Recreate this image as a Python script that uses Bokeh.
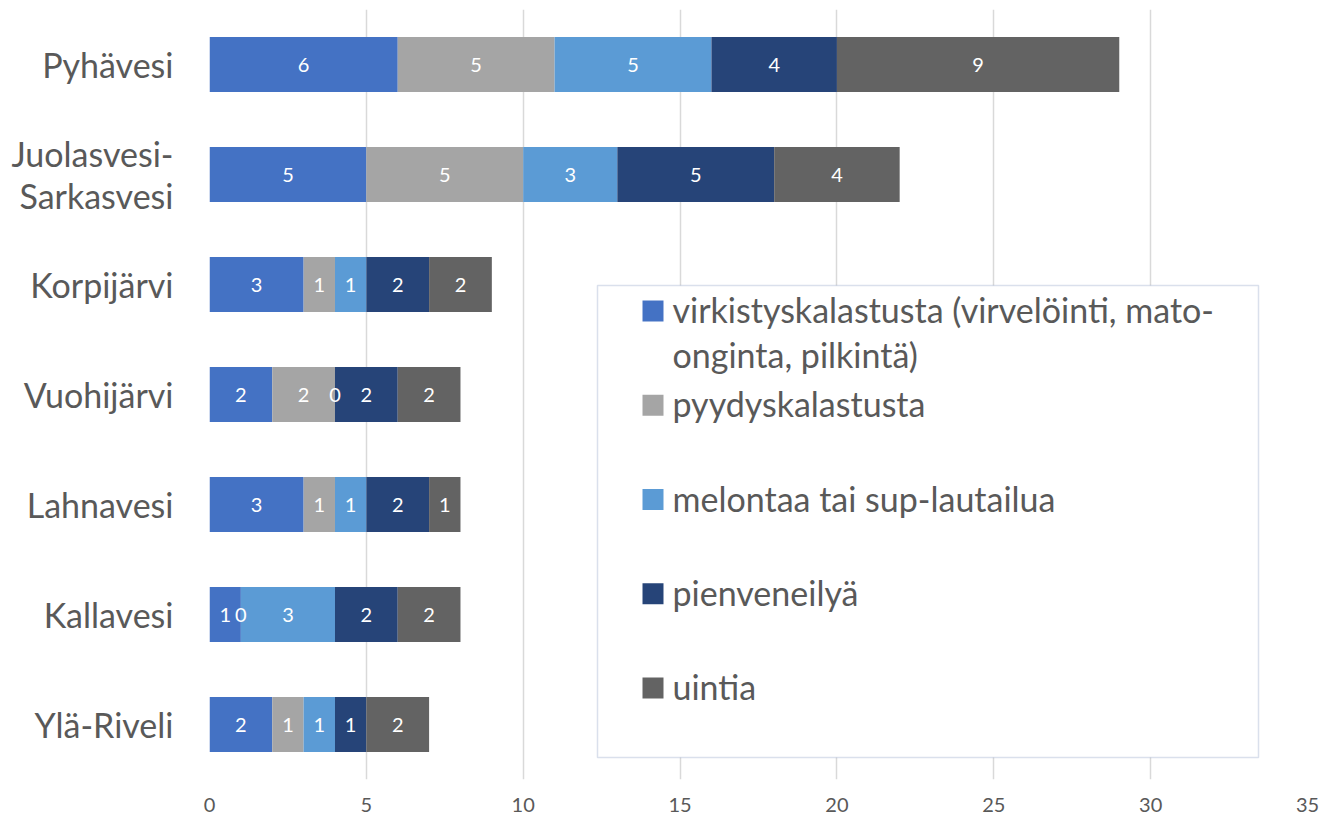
from bokeh.plotting import figure
from bokeh.models import (ColumnDataSource, Range1d, FixedTicker, BoxAnnotation,
                          Label, LinearAxis, CustomJSTickFormatter)
from bokeh.core.properties import value
from bokeh.embed import file_html
from bokeh.resources import INLINE

# ---------------- data ----------------
lakes = ["Pyhävesi", "Juolasvesi-Sarkasvesi", "Korpijärvi", "Vuohijärvi",
         "Lahnavesi", "Kallavesi", "Ylä-Riveli"]
lake_lines = [["Pyhävesi"], ["Juolasvesi-", "Sarkasvesi"], ["Korpijärvi"], ["Vuohijärvi"],
              ["Lahnavesi"], ["Kallavesi"], ["Ylä-Riveli"]]
series_keys = ["virkistys", "pyydys", "melonta", "pienvene", "uinti"]
series_labels = [["virkistyskalastusta (virvelöinti, mato-", "onginta, pilkintä)"],
                 ["pyydyskalastusta"], ["melontaa tai sup-lautailua"],
                 ["pienveneilyä"], ["uintia"]]
virkistys = [6, 5, 3, 2, 3, 1, 2]
pyydys = [5, 5, 1, 2, 1, 0, 1]
melonta = [5, 3, 1, 0, 1, 3, 1]
pienvene = [4, 5, 2, 2, 2, 2, 1]
uinti = [9, 4, 2, 2, 1, 2, 2]
colors = ["#4472C4", "#A5A5A5", "#5B9BD5", "#264478", "#636363"]
x_ticks = [0, 5, 10, 15, 20, 25, 30, 35]

# ---------------- style / layout ----------------
FONT = "Lato"
TXT = "#595959"
W, H = 1320, 820
FL, FR, FT, FB = 209, 1307, 9, 779   # frame edges in px
XMAX = 35
NCAT = len(lakes)
ROW = (FB - FT) / NCAT


def xd(sx):
    return (sx - FL) / ((FR - FL) / XMAX)


def yd(sy):
    return (FB - sy) / ROW


values = [virkistys, pyydys, melonta, pienvene, uinti]
row_pos = [NCAT - i - 0.5 for i in range(NCAT)]   # first category on top
data = {"lake": lakes, "ypos": row_pos}
for k, v in zip(series_keys, values):
    data[k] = v
source = ColumnDataSource(data)

p = figure(y_range=Range1d(0, NCAT), x_range=Range1d(0, XMAX), width=W, height=H,
           output_backend="svg", toolbar_location=None, y_axis_location=None,
           min_border_left=FL, min_border_right=W - FR,
           min_border_top=FT, min_border_bottom=H - FB)

renderers = p.hbar_stack(series_keys, y="ypos", height=0.5, color=colors,
                         source=source, line_color=None)

# value labels at segment centres
lx, ly, lt = [], [], []
for i in range(NCAT):
    left = 0
    for v in values:
        val = v[i]
        lx.append(left + val / 2)
        ly.append(row_pos[i])
        lt.append(str(val))
        left += val
p.text(x=lx, y=ly, text=lt, text_align="center", text_baseline="middle",
       text_color="white", text_font_size="20px", text_font=value(FONT))

p.outline_line_color = None
p.background_fill_color = "white"
p.border_fill_color = "white"
p.ygrid.grid_line_color = None
p.xgrid.ticker = FixedTicker(ticks=x_ticks)
p.xgrid.grid_line_color = "#D9D9D9"
p.xgrid.grid_line_width = 1.5

p.xaxis.ticker = FixedTicker(ticks=x_ticks)
p.xaxis.axis_line_color = None
p.xaxis.major_tick_line_color = None
p.xaxis.minor_tick_line_color = None
p.xaxis.major_tick_out = 0
p.xaxis.major_tick_in = 0
p.xaxis.major_label_text_color = TXT
p.xaxis.major_label_text_font_size = "20px"
p.xaxis.major_label_text_font = FONT
p.xaxis.major_label_standoff = 18

# category axis: one tick per label line, so wrapped names get two lines
LINE_GAP = 41 / ROW
tick_pos, tick_lab = [], []
for i, lines in enumerate(lake_lines):
    n = len(lines)
    for j, line in enumerate(lines):
        tick_pos.append(round(row_pos[i] + ((n - 1) / 2 - j) * LINE_GAP, 4))
        tick_lab.append(line)
cat_axis = LinearAxis(
    ticker=FixedTicker(ticks=tick_pos),
    formatter=CustomJSTickFormatter(
        args=dict(pos=tick_pos, labs=tick_lab),
        code="const i = pos.findIndex(p => Math.abs(p - tick) < 1e-3); return i >= 0 ? labs[i] : '';"),
    axis_line_color=None, major_tick_line_color=None, minor_tick_line_color=None,
    major_tick_out=0, major_tick_in=0,
    major_label_text_color=TXT, major_label_text_font_size="34px",
    major_label_text_font=FONT, major_label_standoff=36)
p.add_layout(cat_axis, "left")

# legend box
p.add_layout(BoxAnnotation(left=xd(597), right=xd(1258), top=yd(285), bottom=yd(757),
                           fill_color="white", fill_alpha=1,
                           line_color="#8497C0", line_width=1.5))
for k, (lab, col) in enumerate(zip(series_labels, colors)):
    c = 310.5 + k * 94.25
    p.add_layout(BoxAnnotation(left=xd(642), right=xd(663), top=yd(c - 10.5),
                               bottom=yd(c + 10.5), fill_color=col, fill_alpha=1,
                               line_color=None))
    for j, line in enumerate(lab):
        p.add_layout(Label(x=xd(672), y=yd(c - 1.5 + j * 45), text=line,
                           text_align="left", text_baseline="alphabetic",
                           text_font=FONT, text_font_size="34px", text_color=TXT))

open("out.html", "w").write(file_html(p, INLINE))
